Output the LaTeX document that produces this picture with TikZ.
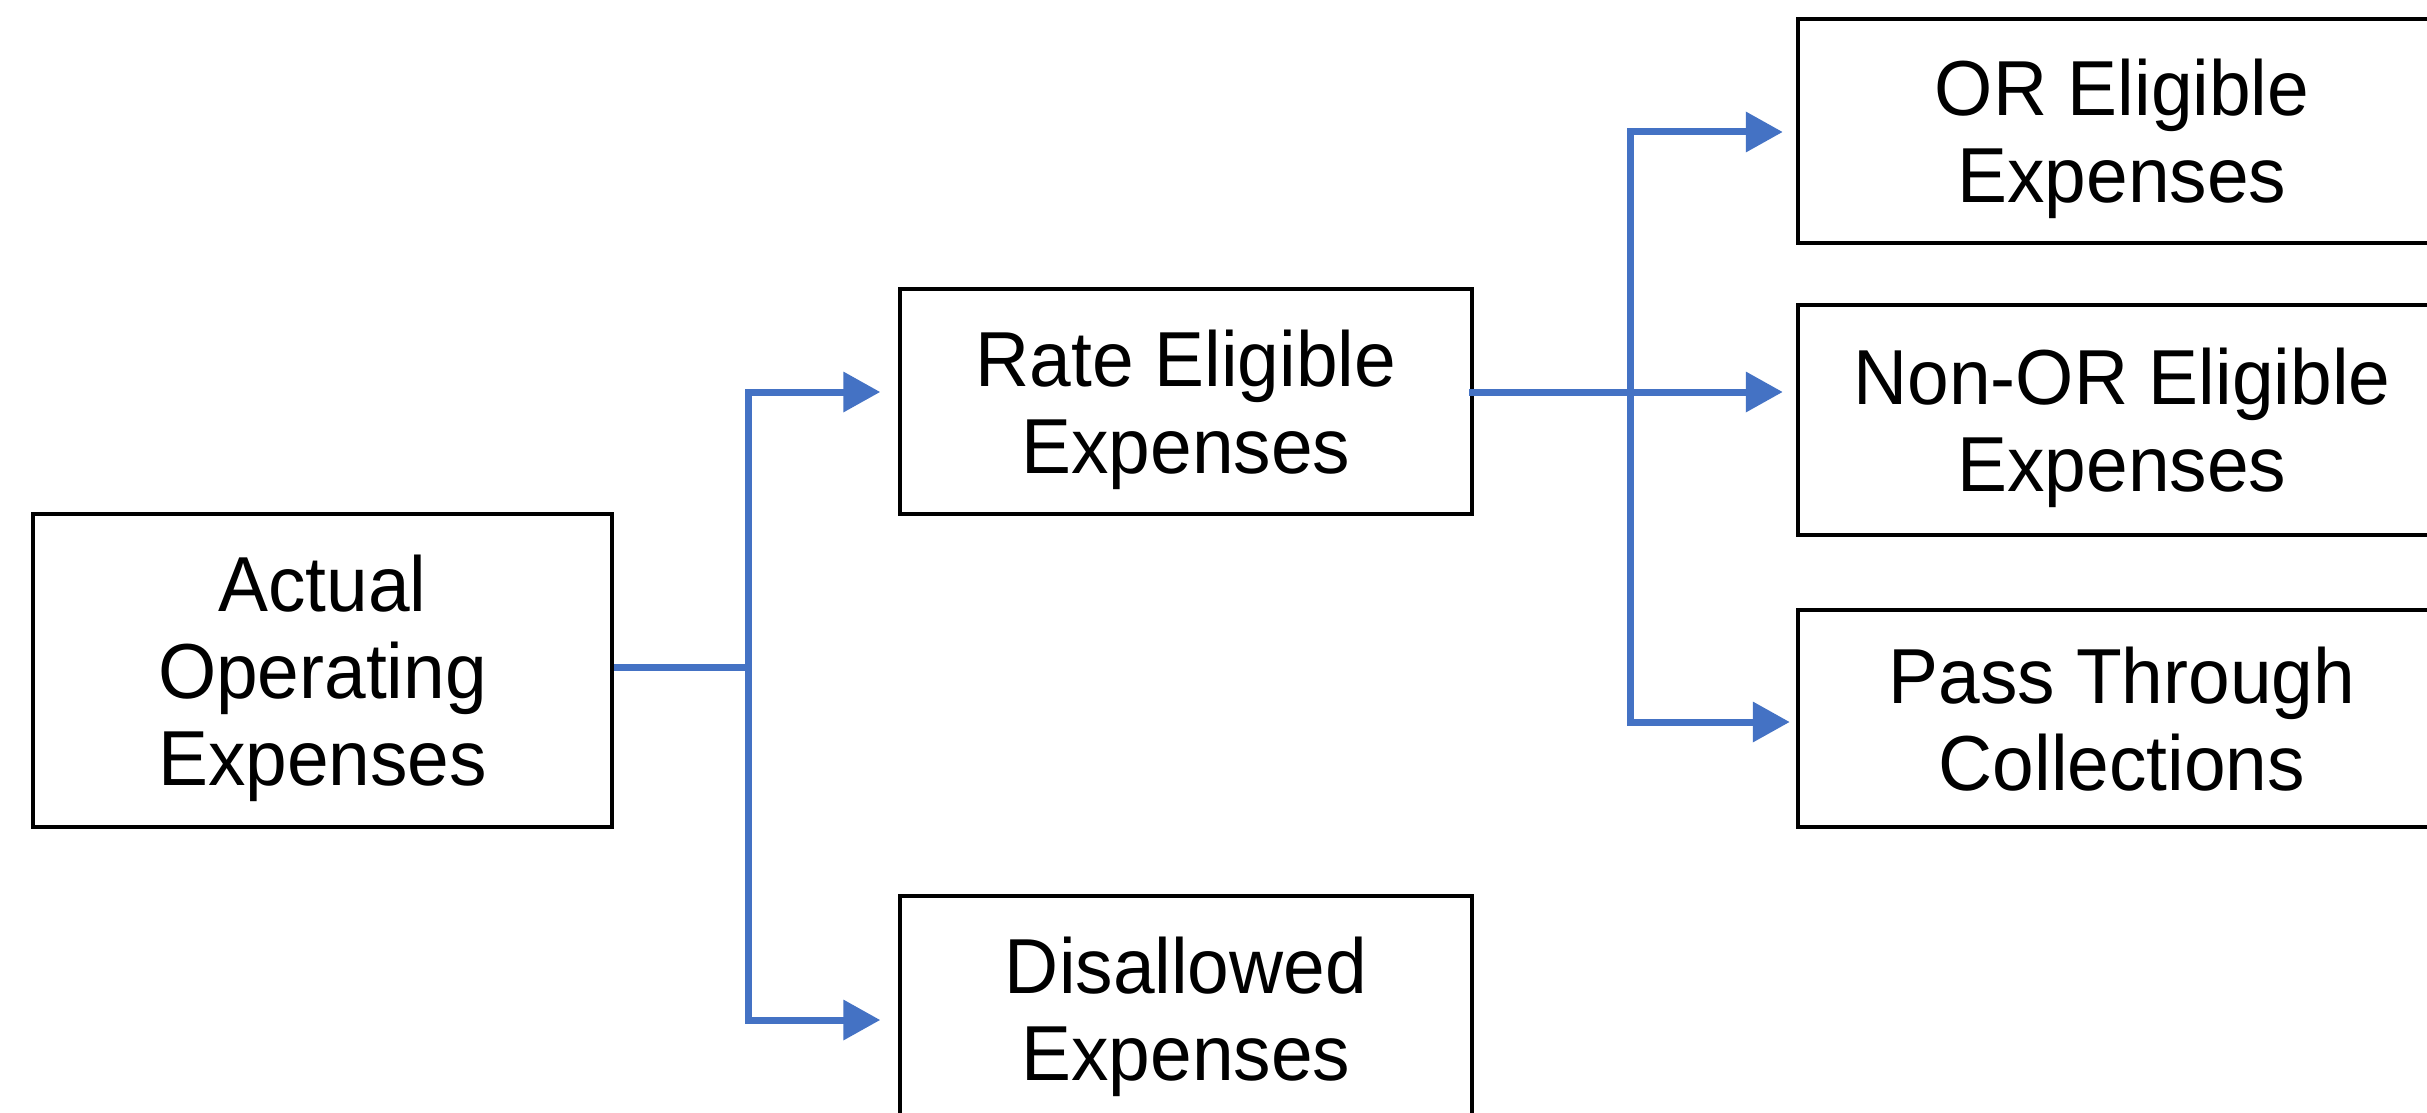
\documentclass[tikz,border=0pt]{standalone}
\usepackage{fontspec}
\setmainfont{Liberation Sans}[FakeStretch=0.96]
\usetikzlibrary{arrows.meta,calc}

\definecolor{linkblue}{HTML}{4472C4}

\tikzset{
  box/.style={draw=black, line width=4.5pt, fill=white, inner sep=0pt,
    align=center, text depth=0pt, font=\fontsize{78}{87}\selectfont},
  link/.style={draw=linkblue, line width=7pt},
  tip/.style={-{Triangle[length=37pt,width=39pt]}}
}

\begin{document}
\begin{tikzpicture}[x=1pt,y=-1pt]
  \useasboundingbox (0,0) rectangle (2427,1113);
  \fill[white] (0,0) rectangle (2427,1113);
  \clip (0,0) rectangle (2427,1113);

  % boxes
  \node[box, minimum width=579pt, minimum height=313pt] (act)  at (322.5,670.5) {Actual\\Operating\\Expenses};
  \node[box, minimum width=572pt, minimum height=225pt] (rate) at (1186,401.5) {Rate Eligible\\Expenses};
  \node[box, minimum width=572pt, minimum height=225pt] (dis)  at (1186,1008.5) {Disallowed\\Expenses};
  \node[box, minimum width=648pt, minimum height=224pt] (or)   at (2122,131) {OR Eligible\\Expenses};
  \node[box, minimum width=648pt, minimum height=230pt] (non)  at (2122,420) {Non-OR Eligible\\Expenses};
  \node[box, minimum width=648pt, minimum height=217pt] (pass) at (2122,718.5) {Pass Through\\Collections};

  % branch points
  \coordinate (jL) at (748,667);
  \coordinate (jR) at (1630,392);

  % first split
  \draw[link] ([yshift=3.5pt]act.east) -- (jL);
  \draw[link,tip] (jL) |- ([xshift=-17.5pt,yshift=9.5pt]rate.west);
  \draw[link,tip] (jL) |- ([xshift=-17.5pt,yshift=-11.5pt]dis.west);

  % second split
  \draw[link,tip] ([xshift=-5pt,yshift=9.5pt]rate.east) -- ([xshift=-13pt]non.west |- jR);
  \draw[link,tip] (jR) |- ([xshift=-13pt,yshift=-1pt]or.west);
  \draw[link,tip] (jR) |- ([xshift=-6pt,yshift=-3.5pt]pass.west);
\end{tikzpicture}
\end{document}
